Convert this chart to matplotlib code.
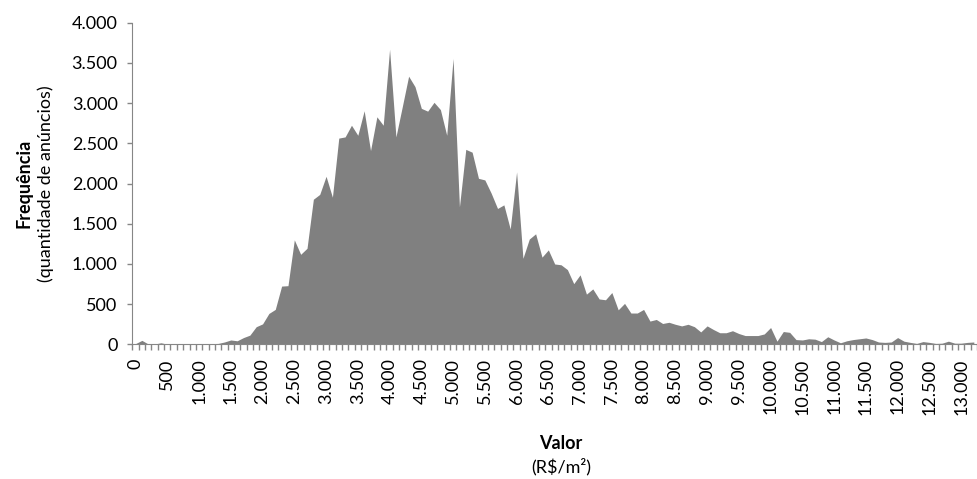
import numpy as np
import matplotlib.pyplot as plt
from matplotlib.ticker import FuncFormatter, MultipleLocator

plt.rcParams['font.family'] = ['Lato', 'DejaVu Sans']

# categorias (R$/m2), faixas de 100
valor = np.arange(0, 13201, 100)
# frequencia
freq = [10, 50, 5, 5, 20, 3, 2, 2, 3, 3,
        5, 10, 10, 12, 30, 55, 45, 85, 115, 220,
        255, 385, 435, 725, 730, 1300, 1120, 1195, 1805, 1865,
        2090, 1830, 2565, 2580, 2725, 2600, 2905, 2410, 2830, 2725,
        3670, 2580, 2955, 3335, 3205, 2935, 2900, 3010, 2920, 2600,
        3555, 1710, 2425, 2390, 2065, 2045, 1880, 1690, 1735, 1435,
        2145, 1070, 1310, 1375, 1085, 1175, 1000, 990, 930, 755,
        865, 625, 690, 565, 555, 645, 430, 510, 390, 390,
        435, 290, 310, 260, 275, 250, 230, 250, 220, 155,
        230, 185, 145, 145, 170, 135, 110, 110, 110, 130,
        210, 40, 160, 150, 60, 55, 70, 65, 35, 95,
        55, 20, 45, 60, 70, 80, 60, 30, 25, 30,
        85, 40, 25, 12, 35, 25, 12, 15, 40, 15,
        15, 25, 30]

def milhar(v, pos=None):
    return f'{int(v):,}'.replace(',', '.')

cinza = '#868686'
fig = plt.figure(figsize=(9.77, 4.79), dpi=100)
ax = fig.add_axes([0.1355, 0.281, 0.8645, 0.6716])

pos = np.arange(len(valor))
ax.fill_between(pos, freq, 0, color='#808080', lw=0)

ax.set_xlim(-0.5, 132.3)
ax.set_ylim(0, 4000)

ax.yaxis.set_major_locator(MultipleLocator(500))
ax.yaxis.set_major_formatter(FuncFormatter(milhar))

ax.set_xticks(pos[::5])
ax.set_xticklabels([milhar(v) for v in valor[::5]], rotation=90)
ax.set_xticks(np.arange(-0.5, 133, 1), minor=True)

ax.tick_params(axis='y', direction='out', length=3.6, width=1, color=cinza,
               labelsize=13, pad=7)
ax.tick_params(axis='x', which='major', length=0, labelsize=13, pad=10)
ax.tick_params(axis='x', which='minor', direction='out', length=4.3,
               width=1, color=cinza)

for s in ['top', 'right']:
    ax.spines[s].set_visible(False)
for s in ['left', 'bottom']:
    ax.spines[s].set_color(cinza)

fig.text(0.0246, 0.617, 'Frequência', rotation=90, fontsize=13,
         fontweight='bold', ha='center', va='center')
fig.text(0.047, 0.617, '(quantidade de anúncios)', rotation=90, fontsize=13,
         ha='center', va='center')
fig.text(0.574, 0.075, 'Valor', fontsize=13, fontweight='bold',
         ha='center', va='center')
fig.text(0.574, 0.025, '(R$/m²)', fontsize=13, ha='center', va='center')

fig.savefig('out.png', dpi=100)
